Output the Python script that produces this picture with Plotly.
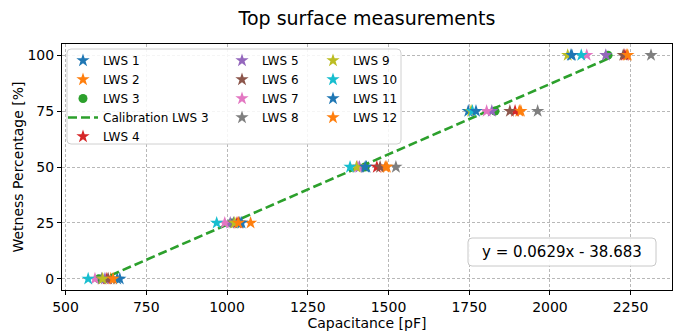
import plotly.graph_objects as go

levels = [0, 25, 50, 75, 100]

lws1 = [660, 1040, 1432, 1747, 2065]
lws2 = [640, 1073, 1490, 1905, 2238]
lws3 = [603, 1014, 1427, 1830, 2180]
lws4 = [628, 1031, 1464, 1892, 2232]
lws5 = [622, 1010, 1410, 1820, 2173]
lws6 = [632, 1037, 1474, 1876, 2227]
lws7 = [591, 993, 1405, 1804, 2114]
lws8 = [612, 1020, 1523, 1962, 2313]
lws9 = [615, 1024, 1401, 1756, 2055]
lws10 = [570, 968, 1381, 1760, 2097]
lws11 = [668, 1045, 1428, 1771, 2068]
lws12 = [647, 1035, 1495, 1910, 2241]

slope = 0.0629
intercept = -38.683

x_ticks = [500, 750, 1000, 1250, 1500, 1750, 2000, 2250]
y_ticks = [0, 25, 50, 75, 100]

C = {
    "blue": "#1f77b4", "orange": "#ff7f0e", "green": "#2ca02c", "red": "#d62728",
    "purple": "#9467bd", "brown": "#8c564b", "pink": "#e377c2", "grey": "#7f7f7f",
    "olive": "#bcbd22", "cyan": "#17becf",
}

FONT = "DejaVu Sans"

# plot-area pixel geometry
L, R, T, B = 62, 672, 44, 290
W, H = 673, 333


def px(xp):
    return (xp - L) / (R - L)


def py(yp):
    return (B - yp) / (B - T)


def rounded_rect(x0, y0, x1, y1, r=4):
    rx = r / (R - L)
    ry = r / (B - T)
    a, b, c, d = px(x0), py(y1), px(x1), py(y0)  # left, bottom, right, top
    return (f"M {a+rx},{b} L {c-rx},{b} Q {c},{b} {c},{b+ry} L {c},{d-ry} "
            f"Q {c},{d} {c-rx},{d} L {a+rx},{d} Q {a},{d} {a},{d-ry} "
            f"L {a},{b+ry} Q {a},{b} {a+rx},{b} Z")


fig = go.Figure()


def star(name, xs, color, legend):
    fig.add_trace(go.Scatter(
        x=xs, y=levels, mode="markers", name=name, legend=legend,
        marker=dict(symbol="star", size=10, color=color, line=dict(width=0)),
    ))


star("LWS 1", lws1, C["blue"], "legend")
star("LWS 2", lws2, C["orange"], "legend")
fig.add_trace(go.Scatter(
    x=lws3, y=levels, mode="markers", name="LWS 3", legend="legend",
    marker=dict(symbol="circle", size=9, color=C["green"], line=dict(width=0)),
))
cal_x = [min(lws3), max(lws3)]
cal_y = [slope * v + intercept for v in cal_x]
fig.add_trace(go.Scatter(
    x=cal_x, y=cal_y, mode="lines", name="Calibration LWS 3", legend="legend",
    line=dict(color=C["green"], width=2.6, dash="9px,4px"),
))
star("LWS 4", lws4, C["red"], "legend")
star("LWS 5", lws5, C["purple"], "legend2")
star("LWS 6", lws6, C["brown"], "legend2")
star("LWS 7", lws7, C["pink"], "legend2")
star("LWS 8", lws8, C["grey"], "legend2")
star("LWS 9", lws9, C["olive"], "legend3")
star("LWS 10", lws10, C["cyan"], "legend3")
star("LWS 11", lws11, C["blue"], "legend3")
star("LWS 12", lws12, C["orange"], "legend3")

leg_common = dict(bgcolor="rgba(0,0,0,0)", borderwidth=0, yanchor="top", xanchor="left",
                  font=dict(family=FONT, size=12, color="black"), tracegroupgap=0,
                  itemsizing="trace")

axis_common = dict(
    showline=True, linecolor="black", linewidth=1, mirror=True,
    ticks="outside", ticklen=4, tickcolor="black", tickwidth=1,
    showgrid=True, gridcolor="#b8b8b8", gridwidth=0.8, griddash="3px,2px",
    zeroline=False, tickfont=dict(family=FONT, size=14, color="black"),
    automargin=False,
)

fig.update_layout(
    width=W, height=H,
    margin=dict(l=L, r=W - R, t=T, b=H - B),
    paper_bgcolor="white", plot_bgcolor="white",
    title=dict(text="Top surface measurements", x=(L + R) / 2 / W, xanchor="center",
               y=1 - 18 / H, yanchor="middle",
               font=dict(family=FONT, size=19, color="black")),
    xaxis=dict(range=[489, 2378], tickvals=x_ticks,
               title=dict(text="Capacitance [pF]", standoff=2,
                          font=dict(family=FONT, size=14, color="black")),
               **axis_common),
    yaxis=dict(range=[-5, 105], tickvals=y_ticks,
               title=dict(text="Wetness Percentage [%]", standoff=0,
                          font=dict(family=FONT, size=14, color="black")),
               **axis_common),
    legend=dict(x=px(63), y=py(46), **leg_common),
    legend2=dict(x=px(222), y=py(46), **leg_common),
    legend3=dict(x=px(313), y=py(46), **leg_common),
    showlegend=True,
    shapes=[
        dict(type="path", xref="paper", yref="paper", path=rounded_rect(67, 49, 401, 144),
             fillcolor="rgba(255,255,255,0.85)", line=dict(color="#d0d0d0", width=1),
             layer="above"),
        dict(type="path", xref="paper", yref="paper", path=rounded_rect(468, 238, 656, 266),
             fillcolor="rgba(255,255,255,0.9)", line=dict(color="#c8c8c8", width=1),
             layer="above"),
    ],
    annotations=[
        dict(text=f"y = {slope}x - {abs(intercept)}", xref="paper", yref="paper",
             x=px(562), y=py(252), xanchor="center", yanchor="middle", showarrow=False,
             font=dict(family=FONT, size=15, color="black")),
    ],
)

fig.write_html("out.html", post_script="document.body.style.margin='0';",
               config={"displayModeBar": False})
